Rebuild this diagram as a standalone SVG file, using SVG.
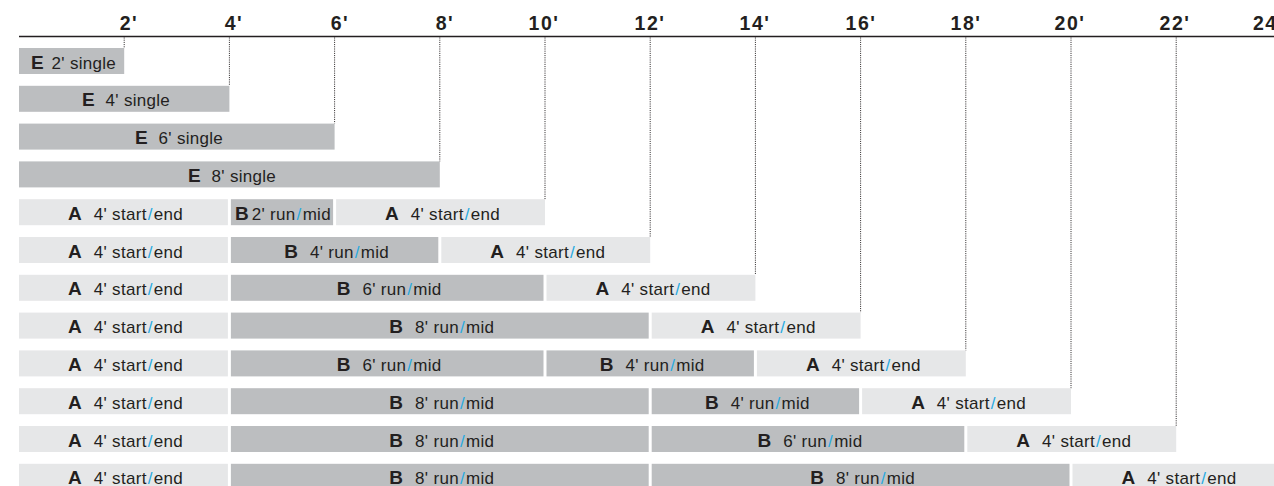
<svg xmlns="http://www.w3.org/2000/svg" width="1274" height="486" viewBox="0 0 1274 486">
<style>
.d{fill:#bcbec0}
.l{fill:#e6e7e8}
.t{font-family:"Liberation Sans",Arial,Helvetica,sans-serif;font-size:17px;fill:#231f20;letter-spacing:0.3px;text-anchor:middle}
.k{font-weight:bold;font-size:19px;letter-spacing:0}
.s{fill:#27aae1}
.ax{font-family:"Liberation Sans",Arial,Helvetica,sans-serif;font-weight:bold;font-size:19.5px;fill:#231f20;letter-spacing:1.5px;text-anchor:middle}
.g{stroke:#231f20;stroke-width:1;stroke-dasharray:1 1.2;fill:none}
</style>
<rect width="1274" height="486" fill="#ffffff"/>
<g id="axis">
<line x1="19" y1="36.5" x2="1274" y2="36.5" stroke="#231f20" stroke-width="1.5"/>
<text class="ax" x="129" y="30">2'</text>
<text class="ax" x="234" y="30">4'</text>
<text class="ax" x="340" y="30">6'</text>
<text class="ax" x="445" y="30">8'</text>
<text class="ax" x="544" y="30">10'</text>
<text class="ax" x="650" y="30">12'</text>
<text class="ax" x="755" y="30">14'</text>
<text class="ax" x="861" y="30">16'</text>
<text class="ax" x="966" y="30">18'</text>
<text class="ax" x="1070" y="30">20'</text>
<text class="ax" x="1175" y="30">22'</text>
<text class="ax" x="1253" y="30" style="text-anchor:start">24'</text>
</g>
<g id="connectors">
<line class="g" x1="124.2" y1="37.5" x2="124.2" y2="48"/>
<line class="g" x1="229.4" y1="37.5" x2="229.4" y2="85.8"/>
<line class="g" x1="334.6" y1="37.5" x2="334.6" y2="123.6"/>
<line class="g" x1="439.8" y1="37.5" x2="439.8" y2="161.4"/>
<line class="g" x1="545" y1="37.5" x2="545" y2="199.2"/>
<line class="g" x1="650.2" y1="37.5" x2="650.2" y2="237"/>
<line class="g" x1="755.4" y1="37.5" x2="755.4" y2="274.8"/>
<line class="g" x1="860.6" y1="37.5" x2="860.6" y2="312.6"/>
<line class="g" x1="965.8" y1="37.5" x2="965.8" y2="350.4"/>
<line class="g" x1="1071" y1="37.5" x2="1071" y2="388.2"/>
<line class="g" x1="1176.2" y1="37.5" x2="1176.2" y2="426"/>
</g>
<g id="row1-E2">
<rect class="d" x="19" y="48" width="105.2" height="26"/>
<text class="t" x="73.5" y="68.5"><tspan class="k">E</tspan><tspan dx="8">2' single</tspan></text>
</g>
<g id="row2-E4">
<rect class="d" x="19" y="85.8" width="210.4" height="26"/>
<text class="t" x="126" y="106.3"><tspan class="k">E</tspan><tspan dx="11">4' single</tspan></text>
</g>
<g id="row3-E6">
<rect class="d" x="19" y="123.6" width="315.6" height="26"/>
<text class="t" x="179" y="144.1"><tspan class="k">E</tspan><tspan dx="11">6' single</tspan></text>
</g>
<g id="row4-E8">
<rect class="d" x="19" y="161.4" width="420.8" height="26"/>
<text class="t" x="232" y="181.9"><tspan class="k">E</tspan><tspan dx="11">8' single</tspan></text>
</g>
<g id="row5">
<rect class="l" x="19" y="199.2" width="208.9" height="26"/>
<text class="t" x="125.5" y="219.7"><tspan class="k">A</tspan><tspan dx="12">4' start</tspan><tspan class="s" dx="1">/</tspan><tspan dx="1">end</tspan></text>
<rect class="d" x="230.9" y="199.2" width="102.2" height="26"/>
<text class="t" x="283" y="219.7"><tspan class="k">B</tspan><tspan dx="3">2' run</tspan><tspan class="s" dx="1">/</tspan><tspan dx="1">mid</tspan></text>
<rect class="l" x="336.1" y="199.2" width="208.9" height="26"/>
<text class="t" x="442.5" y="219.7"><tspan class="k">A</tspan><tspan dx="12">4' start</tspan><tspan class="s" dx="1">/</tspan><tspan dx="1">end</tspan></text>
</g>
<g id="row6">
<rect class="l" x="19" y="237" width="208.9" height="26"/>
<text class="t" x="125.5" y="257.5"><tspan class="k">A</tspan><tspan dx="12">4' start</tspan><tspan class="s" dx="1">/</tspan><tspan dx="1">end</tspan></text>
<rect class="d" x="230.9" y="237" width="207.4" height="26"/>
<text class="t" x="336.6" y="257.5"><tspan class="k">B</tspan><tspan dx="12">4' run</tspan><tspan class="s" dx="1">/</tspan><tspan dx="1">mid</tspan></text>
<rect class="l" x="441.3" y="237" width="208.9" height="26"/>
<text class="t" x="547.8" y="257.5"><tspan class="k">A</tspan><tspan dx="12">4' start</tspan><tspan class="s" dx="1">/</tspan><tspan dx="1">end</tspan></text>
</g>
<g id="row7">
<rect class="l" x="19" y="274.8" width="208.9" height="26"/>
<text class="t" x="125.5" y="295.3"><tspan class="k">A</tspan><tspan dx="12">4' start</tspan><tspan class="s" dx="1">/</tspan><tspan dx="1">end</tspan></text>
<rect class="d" x="230.9" y="274.8" width="312.6" height="26"/>
<text class="t" x="389.2" y="295.3"><tspan class="k">B</tspan><tspan dx="12">6' run</tspan><tspan class="s" dx="1">/</tspan><tspan dx="1">mid</tspan></text>
<rect class="l" x="546.5" y="274.8" width="208.9" height="26"/>
<text class="t" x="653" y="295.3"><tspan class="k">A</tspan><tspan dx="12">4' start</tspan><tspan class="s" dx="1">/</tspan><tspan dx="1">end</tspan></text>
</g>
<g id="row8">
<rect class="l" x="19" y="312.6" width="208.9" height="26"/>
<text class="t" x="125.5" y="333.1"><tspan class="k">A</tspan><tspan dx="12">4' start</tspan><tspan class="s" dx="1">/</tspan><tspan dx="1">end</tspan></text>
<rect class="d" x="230.9" y="312.6" width="417.8" height="26"/>
<text class="t" x="441.8" y="333.1"><tspan class="k">B</tspan><tspan dx="12">8' run</tspan><tspan class="s" dx="1">/</tspan><tspan dx="1">mid</tspan></text>
<rect class="l" x="651.7" y="312.6" width="208.9" height="26"/>
<text class="t" x="758.2" y="333.1"><tspan class="k">A</tspan><tspan dx="12">4' start</tspan><tspan class="s" dx="1">/</tspan><tspan dx="1">end</tspan></text>
</g>
<g id="row9">
<rect class="l" x="19" y="350.4" width="208.9" height="26"/>
<text class="t" x="125.5" y="370.9"><tspan class="k">A</tspan><tspan dx="12">4' start</tspan><tspan class="s" dx="1">/</tspan><tspan dx="1">end</tspan></text>
<rect class="d" x="230.9" y="350.4" width="312.6" height="26"/>
<text class="t" x="389.2" y="370.9"><tspan class="k">B</tspan><tspan dx="12">6' run</tspan><tspan class="s" dx="1">/</tspan><tspan dx="1">mid</tspan></text>
<rect class="d" x="546.5" y="350.4" width="207.4" height="26"/>
<text class="t" x="652.2" y="370.9"><tspan class="k">B</tspan><tspan dx="12">4' run</tspan><tspan class="s" dx="1">/</tspan><tspan dx="1">mid</tspan></text>
<rect class="l" x="756.9" y="350.4" width="208.9" height="26"/>
<text class="t" x="863.4" y="370.9"><tspan class="k">A</tspan><tspan dx="12">4' start</tspan><tspan class="s" dx="1">/</tspan><tspan dx="1">end</tspan></text>
</g>
<g id="row10">
<rect class="l" x="19" y="388.2" width="208.9" height="26"/>
<text class="t" x="125.5" y="408.7"><tspan class="k">A</tspan><tspan dx="12">4' start</tspan><tspan class="s" dx="1">/</tspan><tspan dx="1">end</tspan></text>
<rect class="d" x="230.9" y="388.2" width="417.8" height="26"/>
<text class="t" x="441.8" y="408.7"><tspan class="k">B</tspan><tspan dx="12">8' run</tspan><tspan class="s" dx="1">/</tspan><tspan dx="1">mid</tspan></text>
<rect class="d" x="651.7" y="388.2" width="207.4" height="26"/>
<text class="t" x="757.4" y="408.7"><tspan class="k">B</tspan><tspan dx="12">4' run</tspan><tspan class="s" dx="1">/</tspan><tspan dx="1">mid</tspan></text>
<rect class="l" x="862.1" y="388.2" width="208.9" height="26"/>
<text class="t" x="968.6" y="408.7"><tspan class="k">A</tspan><tspan dx="12">4' start</tspan><tspan class="s" dx="1">/</tspan><tspan dx="1">end</tspan></text>
</g>
<g id="row11">
<rect class="l" x="19" y="426" width="208.9" height="26"/>
<text class="t" x="125.5" y="446.5"><tspan class="k">A</tspan><tspan dx="12">4' start</tspan><tspan class="s" dx="1">/</tspan><tspan dx="1">end</tspan></text>
<rect class="d" x="230.9" y="426" width="417.8" height="26"/>
<text class="t" x="441.8" y="446.5"><tspan class="k">B</tspan><tspan dx="12">8' run</tspan><tspan class="s" dx="1">/</tspan><tspan dx="1">mid</tspan></text>
<rect class="d" x="651.7" y="426" width="312.6" height="26"/>
<text class="t" x="810" y="446.5"><tspan class="k">B</tspan><tspan dx="12">6' run</tspan><tspan class="s" dx="1">/</tspan><tspan dx="1">mid</tspan></text>
<rect class="l" x="967.3" y="426" width="208.9" height="26"/>
<text class="t" x="1073.8" y="446.5"><tspan class="k">A</tspan><tspan dx="12">4' start</tspan><tspan class="s" dx="1">/</tspan><tspan dx="1">end</tspan></text>
</g>
<g id="row12">
<rect class="l" x="19" y="463.8" width="208.9" height="26"/>
<text class="t" x="125.5" y="484.3"><tspan class="k">A</tspan><tspan dx="12">4' start</tspan><tspan class="s" dx="1">/</tspan><tspan dx="1">end</tspan></text>
<rect class="d" x="230.9" y="463.8" width="417.8" height="26"/>
<text class="t" x="441.8" y="484.3"><tspan class="k">B</tspan><tspan dx="12">8' run</tspan><tspan class="s" dx="1">/</tspan><tspan dx="1">mid</tspan></text>
<rect class="d" x="651.7" y="463.8" width="417.8" height="26"/>
<text class="t" x="862.6" y="484.3"><tspan class="k">B</tspan><tspan dx="12">8' run</tspan><tspan class="s" dx="1">/</tspan><tspan dx="1">mid</tspan></text>
<rect class="l" x="1072.5" y="463.8" width="208.9" height="26"/>
<text class="t" x="1179" y="484.3"><tspan class="k">A</tspan><tspan dx="12">4' start</tspan><tspan class="s" dx="1">/</tspan><tspan dx="1">end</tspan></text>
</g>
</svg>
